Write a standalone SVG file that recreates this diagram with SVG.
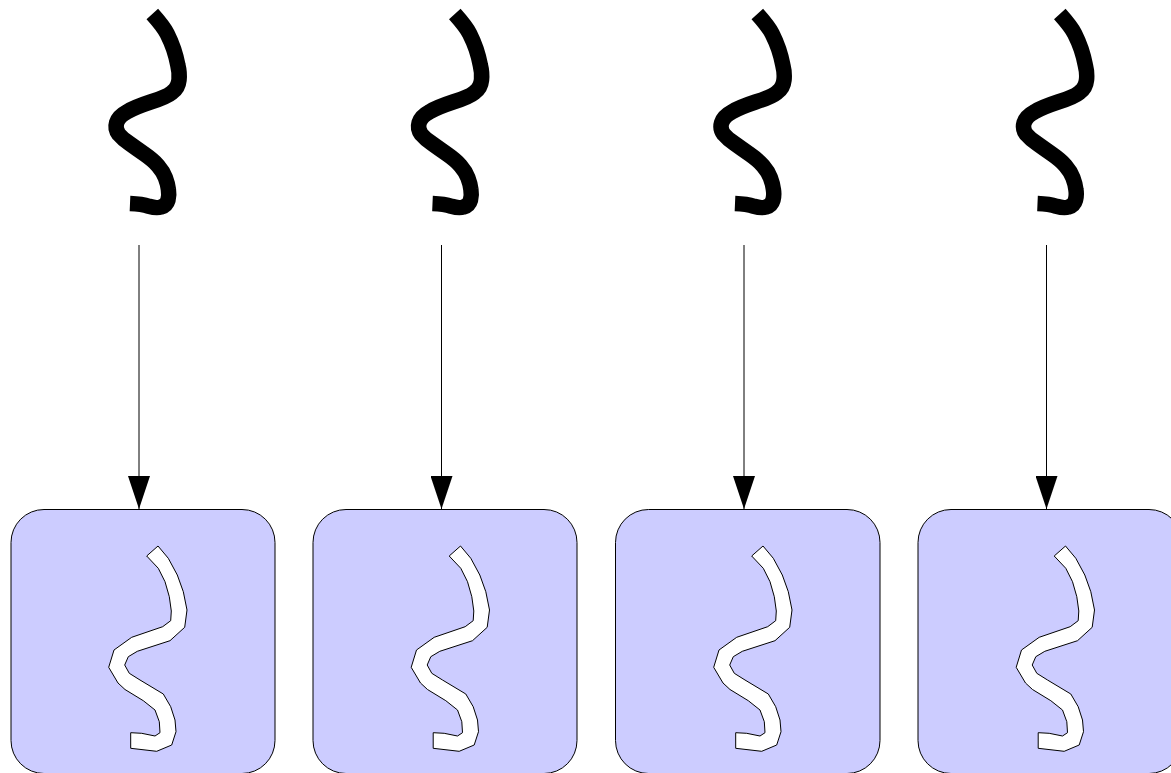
<svg xmlns="http://www.w3.org/2000/svg" width="1171" height="773" viewBox="0 0 1171 773">
<style>
.box{fill:#ccccff;stroke:#000;stroke-width:1}
.wave{fill:none;stroke:#000;stroke-width:15.5}
.band{fill:#fff;stroke:#000;stroke-width:1;stroke-linejoin:miter}
.link{fill:none;stroke:#000;stroke-width:1;marker-end:url(#arrow)}
</style>
<defs>
<marker id="arrow" markerUnits="userSpaceOnUse" markerWidth="33" markerHeight="22" refX="33" refY="11" orient="auto" viewBox="0 0 33 22"><path d="M0 0L33 11L0 22Z" fill="#000"/></marker>
<path id="w" class="wave" d="M152.3 14Q163.3 26.3 167.2 33.8Q171 41.3 173.7 49.2Q176.3 57 177.8 65Q179.8 73 179 80Q178.2 88 172 92.4Q166.4 97 150.5 102Q134.5 107.3 127 111.8Q118.5 116.3 116.6 122.7Q114.7 129 118.9 134.4Q123 139.3 129.4 143.4Q135.8 148 144.6 154.2Q153.3 160.3 158.1 165.8Q162.9 171.3 165.4 177.7Q167.8 184 168.4 189.5Q169.3 195 168 200Q166.5 205.5 161 207Q156.5 208.5 149 206.3Q142 204 130 203.5"/>
<path id="b" class="band" d="M158 546L168.3 558.3L177.3 575L183.3 591.7L187 610L184.7 627.3L170 640.7L137.3 651.3L128.3 656.7L124.7 665L129.3 673.3L140 680L163.3 694L170.7 706.7L175 720L176 731.7L171.7 745L156.7 751.3L130.7 748.3L130.7 732.7L141.7 733.3L155 736L160 732.7L159.3 721.7L155 710L143.3 700.7L125 689.5L118 683L108.7 667.3L114 650L131.7 637.3L162.7 626.7L170.7 620.7L171.3 611L169.3 596.7L165 581.7L158.3 568.3L146.7 556Z"/>
</defs>
<g id="connectors">
<path class="link" d="M139 245V509"/>
<path class="link" d="M441.5 245V509"/>
<path class="link" d="M744 245V509"/>
<path class="link" d="M1046.5 245V509"/>
</g>
<g id="source-1"><use href="#w"/></g>
<g id="source-2"><use href="#w" x="302.5"/></g>
<g id="source-3"><use href="#w" x="605"/></g>
<g id="source-4"><use href="#w" x="907.5"/></g>
<g id="node-1"><rect class="box" x="11" y="509.5" width="264" height="264" rx="33"/><use href="#b"/></g>
<g id="node-2"><rect class="box" x="313" y="509.5" width="264" height="264" rx="33"/><use href="#b" x="302.5"/></g>
<g id="node-3"><rect class="box" x="615.5" y="509.5" width="264.5" height="264" rx="33"/><use href="#b" x="605"/></g>
<g id="node-4"><rect class="box" x="918" y="509.5" width="264" height="264" rx="33"/><use href="#b" x="907.5"/></g>
</svg>
